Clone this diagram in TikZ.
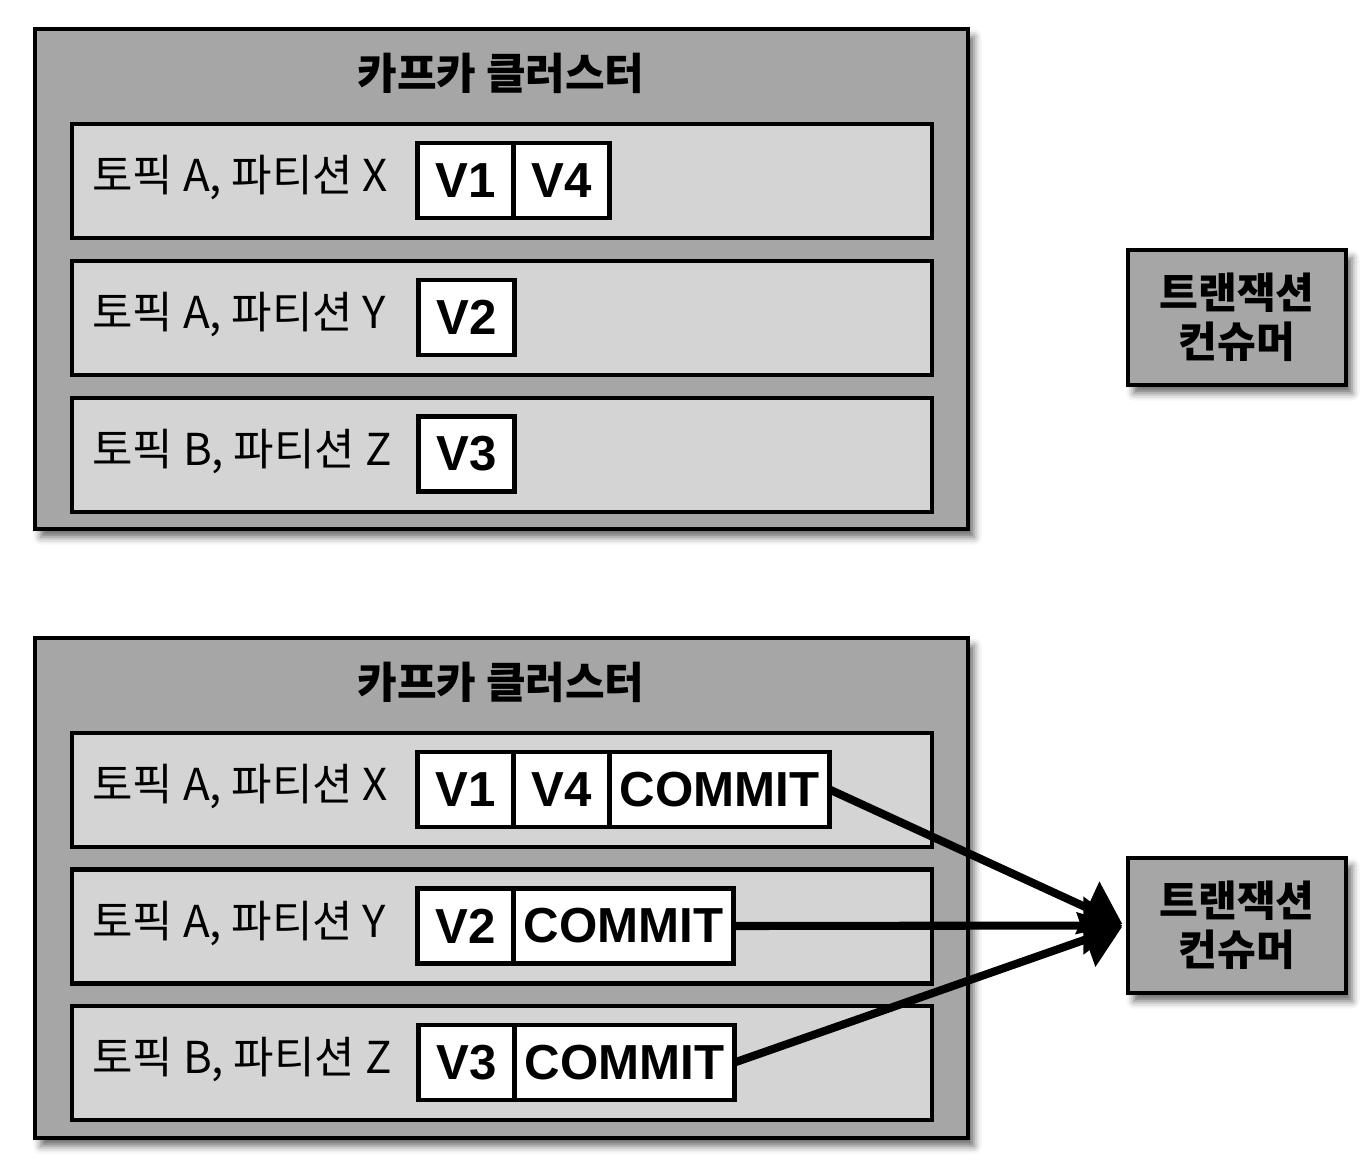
\documentclass[tikz,border=0pt]{standalone}
\usepackage{fontspec}
\setmainfont{Liberation Sans}
\newfontfamily\kr{Noto Sans CJK KR}
\usetikzlibrary{positioning, arrows.meta, shadows.blur}
\definecolor{clgray}{HTML}{A6A6A6}
\definecolor{rowgray}{HTML}{D4D4D4}

\begin{document}
\begin{tikzpicture}[x=0.2mm, y=-0.2mm, node distance=0pt,
		softshadow/.style={blur shadow={shadow xshift=1.2mm, shadow yshift=-1.6mm, shadow blur radius=1.5mm, shadow opacity=60}},
		cluster/.style={draw, line width=2.4pt, fill=clgray, minimum width=18.66cm, minimum height=10cm, softshadow},
		title/.style={font=\kr\bfseries\fontsize{24.5}{30}\selectfont},
		row/.style={draw, line width=2.8pt, fill=rowgray, minimum width=17.2cm, minimum height=2.28cm},
		rowlabel/.style={anchor=west, inner sep=0pt, font=\kr\fontsize{25}{30}\selectfont},
		cell/.style={draw, line width=2.3pt, fill=white, inner sep=0pt, outer sep=0pt, minimum width=1.92cm, minimum height=1.5cm, font=\bfseries\fontsize{28}{32}\selectfont},
		commit/.style={cell, minimum width=4.4cm},
		consumer/.style={draw, line width=2.8pt, fill=clgray, minimum width=4.36cm, minimum height=2.7cm, align=center, font=\kr\bfseries\fontsize{24}{28}\selectfont, softshadow},
		flow/.style={line width=4.6pt, -{Triangle[length=22pt, width=32pt]}, shorten >=2pt}]
	\useasboundingbox (0,0) rectangle (1370,1164);

	% upper cluster
	\node[cluster] (ca) at (501.5,279) {};
	\node[title] (ta) at (501,73) {카프카 클러스터};
	\node[row] (rax) at (502,181) {};
	\node[row] (ray) at (502,318) {};
	\node[row] (raz) at (502,455) {};
	\node[rowlabel] (lax) at (92,178) {토픽 A, 파티션 X};
	\node[rowlabel] (lay) at (92,315) {토픽 A, 파티션 Y};
	\node[rowlabel] (laz) at (92,452) {토픽 B, 파티션 Z};
	\node[cell] (v1a) at (465.5,180.5) {V1};
	\node[cell, right=of v1a] (v4a) {V4};
	\node[cell] (v2a) at (466.5,317.5) {V2};
	\node[cell] (v3a) at (466.5,454) {V3};
	\node[consumer] (tca) at (1237,317.5) {트랜잭션\\컨슈머};

	% lower cluster
	\node[cluster] (cb) at (501.5,888) {};
	\node[title] (tb) at (501,682) {카프카 클러스터};
	\node[row] (rbx) at (502,790) {};
	\node[row] (rby) at (502,926.5) {};
	\node[row] (rbz) at (502,1063) {};
	\node[rowlabel] (lbx) at (92,787) {토픽 A, 파티션 X};
	\node[rowlabel] (lby) at (92,923.5) {토픽 A, 파티션 Y};
	\node[rowlabel] (lbz) at (92,1060) {토픽 B, 파티션 Z};
	\node[cell] (v1b) at (465.5,789.5) {V1};
	\node[cell, right=of v1b] (v4b) {V4};
	\node[commit, right=of v4b] (cmx) {COMMIT};
	\node[cell] (v2b) at (465.5,926) {V2};
	\node[commit, right=of v2b] (cmy) {COMMIT};
	\node[cell] (v3b) at (466.5,1062.5) {V3};
	\node[commit, right=of v3b] (cmz) {COMMIT};
	\node[consumer] (tcb) at (1237,925.5) {트랜잭션\\컨슈머};

	\path[flow] (cmx.east) edge (tcb.west)
		(cmy.east) edge (tcb.west)
		(cmz.east) edge (tcb.west);
\end{tikzpicture}
\end{document}
